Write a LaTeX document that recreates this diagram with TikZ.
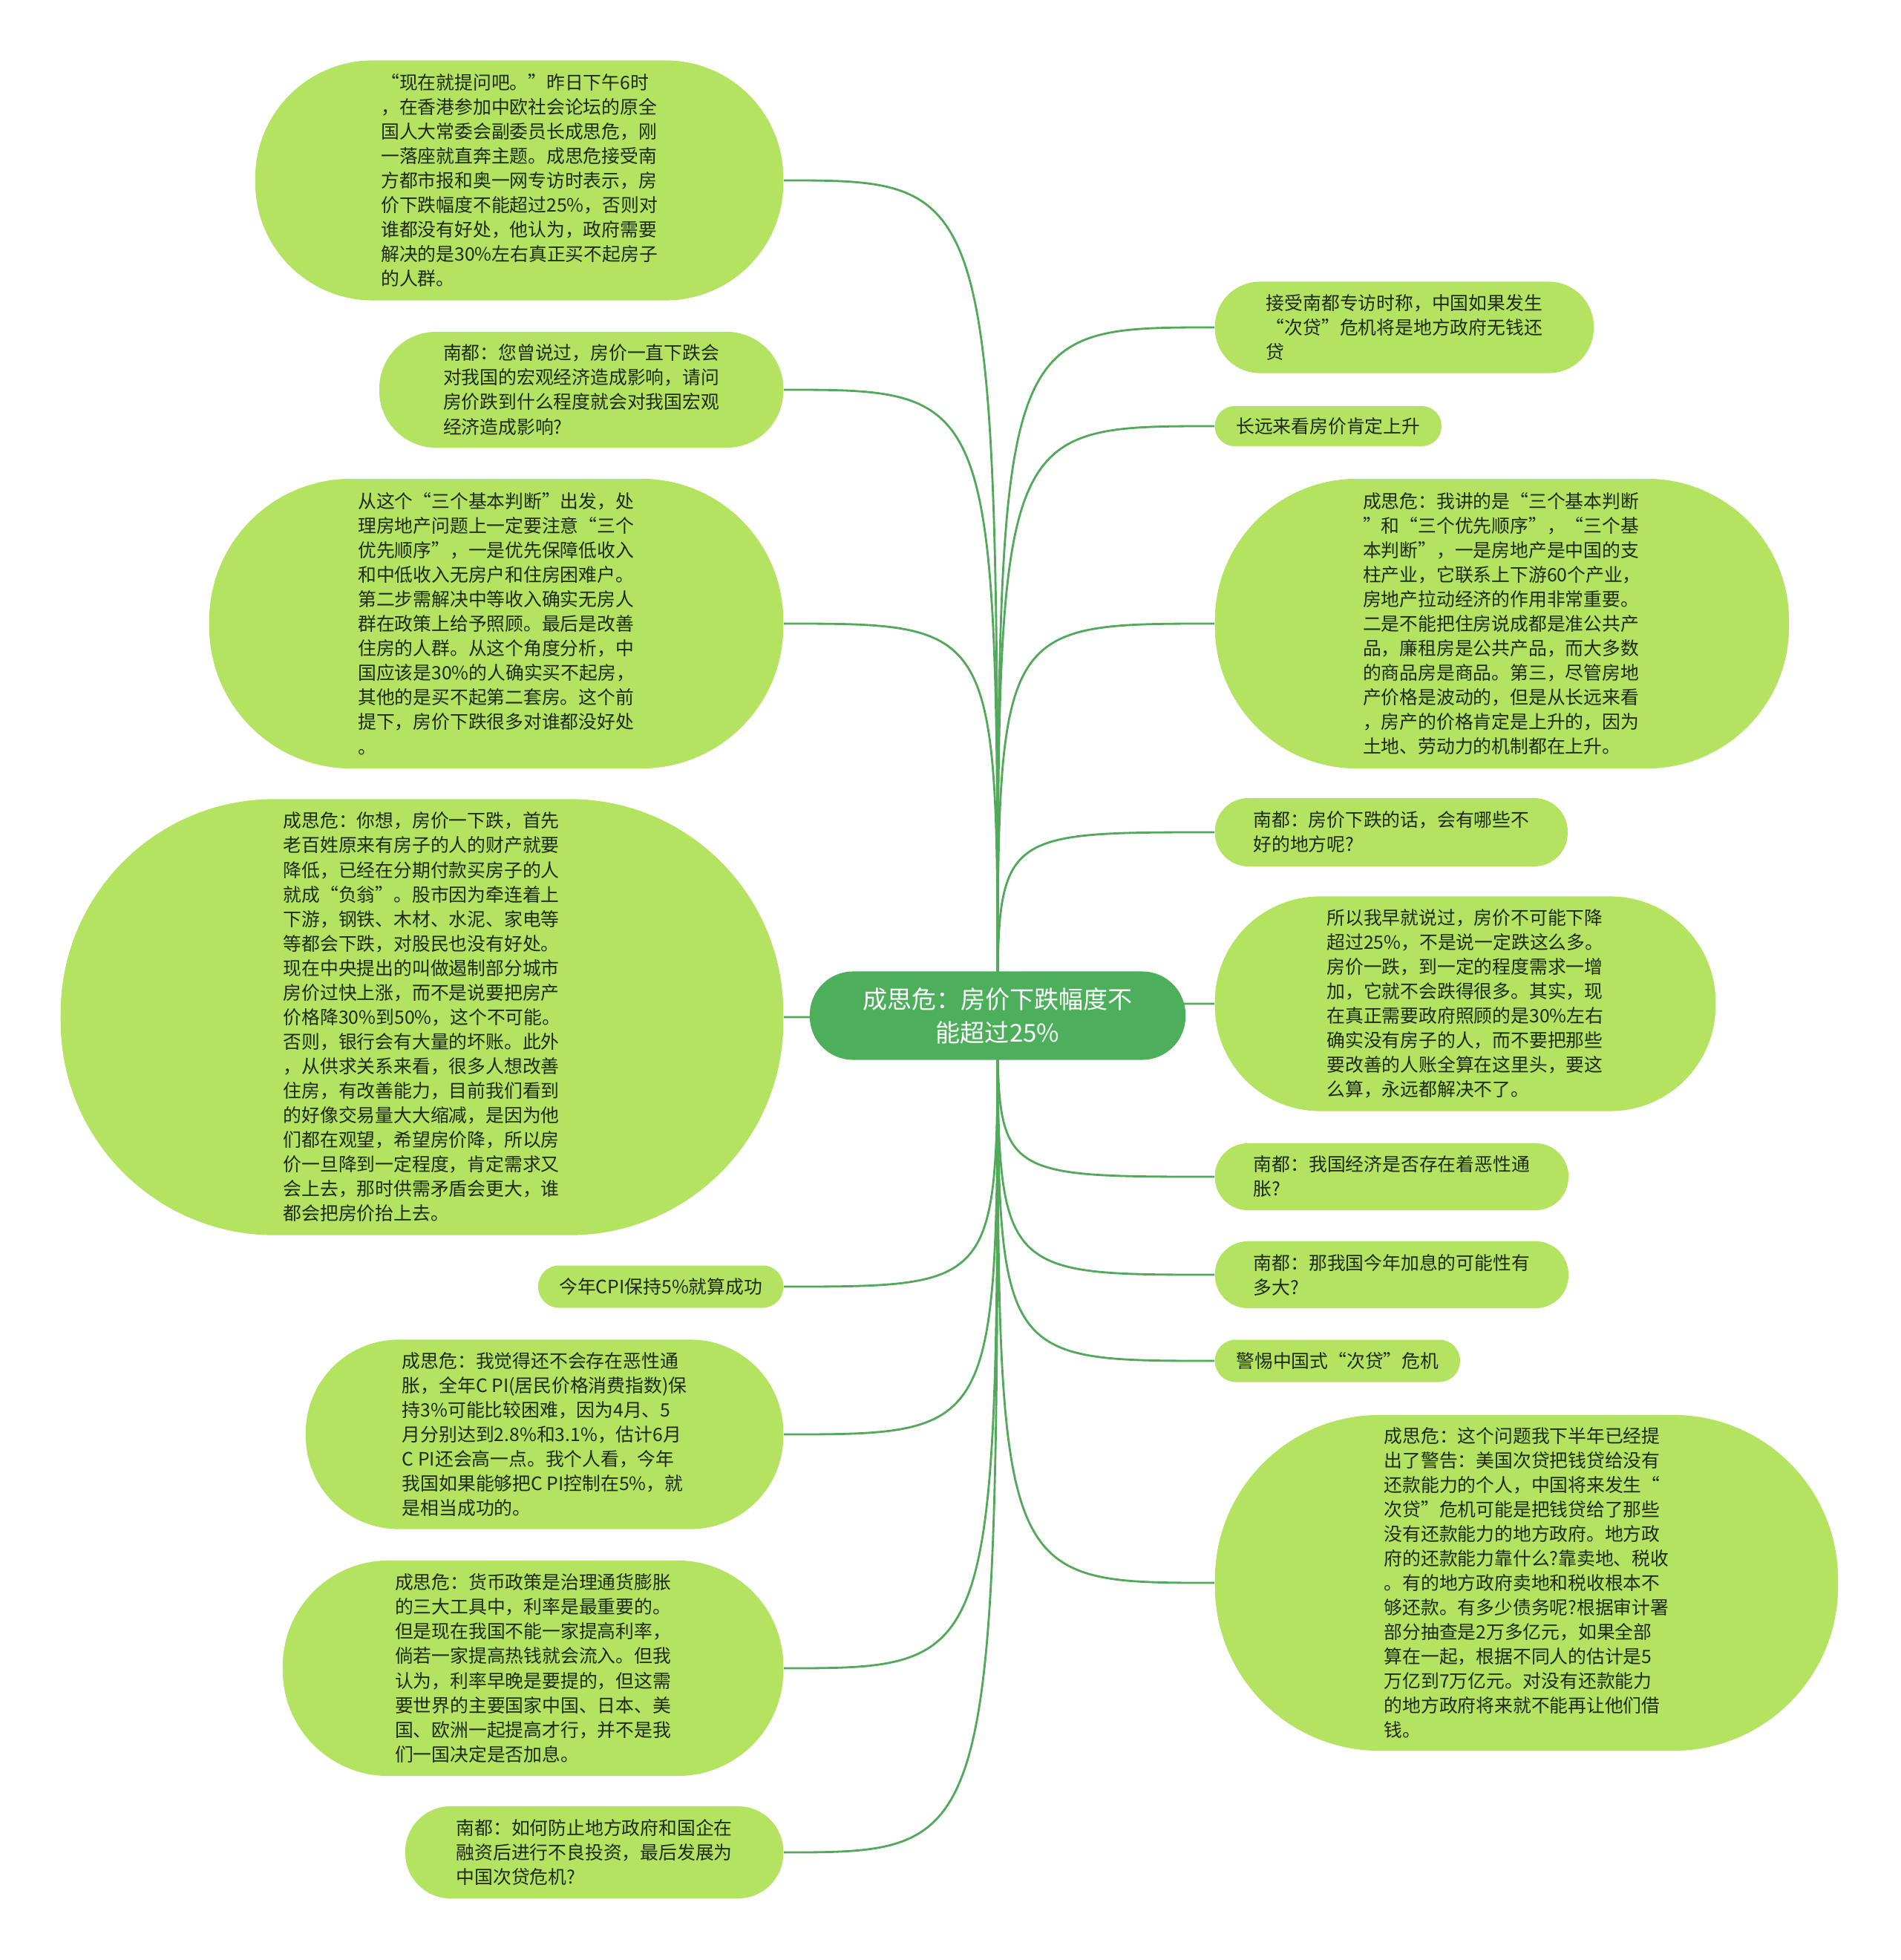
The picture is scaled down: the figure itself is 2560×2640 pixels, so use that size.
\documentclass[tikz,border=0pt]{standalone}
\usepackage{fontspec}
\setmainfont{Noto Sans CJK SC}
\usetikzlibrary{backgrounds}
\definecolor{leafgreen}{HTML}{B3E361}
\definecolor{hubgreen}{HTML}{4DAF5C}
\definecolor{linkgreen}{HTML}{52A85B}
\definecolor{inkdark}{HTML}{1F2A12}

\begin{document}
\begin{tikzpicture}[x=0.01cm, y=-0.01cm,
  box/.style={fill=leafgreen, text=inkdark, align=left, inner sep=0pt,
    font=\fontsize{7.05}{9.4}\selectfont},
  bub/.style 2 args={minimum width=#1, minimum height=#2, rounded corners=0.49*#2},
  hub/.style={fill=hubgreen, text=white, align=center, inner sep=0pt,
    font=\fontsize{9.4}{12.8}\selectfont},
  link/.style={draw=linkgreen, line width=0.8pt}]
\useasboundingbox (0,0) rectangle (2560,2640);
% central topic
\node[hub, bub={5.06cm}{1.19cm}] (root) at (1344,1368) {成思危：房价下跌幅度不\\能超过25\%};
% left branches
\node[box, bub={7.11cm}{3.23cm}, anchor=east] (intro) at (1056,243) {“现在就提问吧。”昨日下午6时\\，在香港参加中欧社会论坛的原全\\国人大常委会副委员长成思危，刚\\一落座就直奔主题。成思危接受南\\方都市报和奥一网专访时表示，房\\价下跌幅度不能超过25\%，否则对\\谁都没有好处，他认为，政府需要\\解决的是30\%左右真正买不起房子\\的人群。};
\node[box, bub={5.44cm}{1.56cm}, anchor=east] (askmacro) at (1056,525) {南都：您曾说过，房价一直下跌会\\对我国的宏观经济造成影响，请问\\房价跌到什么程度就会对我国宏观\\经济造成影响?};
\node[box, bub={7.73cm}{3.90cm}, anchor=east] (priority) at (1056,840) {从这个“三个基本判断”出发，处\\理房地产问题上一定要注意“三个\\优先顺序”，一是优先保障低收入\\和中低收入无房户和住房困难户。\\第二步需解决中等收入确实无房人\\群在政策上给予照顾。最后是改善\\住房的人群。从这个角度分析，中\\国应该是30\%的人确实买不起房，\\其他的是买不起第二套房。这个前\\提下，房价下跌很多对谁都没好处\\。};
\node[box, bub={9.73cm}{5.87cm}, anchor=east] (fallharm) at (1056,1370) {成思危：你想，房价一下跌，首先\\老百姓原来有房子的人的财产就要\\降低，已经在分期付款买房子的人\\就成“负翁”。股市因为牵连着上\\下游，钢铁、木材、水泥、家电等\\等都会下跌，对股民也没有好处。\\现在中央提出的叫做遏制部分城市\\房价过快上涨，而不是说要把房产\\价格降30\%到50\%，这个不可能。\\否则，银行会有大量的坏账。此外\\，从供求关系来看，很多人想改善\\住房，有改善能力，目前我们看到\\的好像交易量大大缩减，是因为他\\们都在观望，希望房价降，所以房\\价一旦降到一定程度，肯定需求又\\会上去，那时供需矛盾会更大，谁\\都会把房价抬上去。};
\node[box, bub={3.30cm}{0.57cm}, anchor=east] (cpi) at (1056,1733) {今年CPI保持5\%就算成功};
\node[box, bub={6.43cm}{2.55cm}, anchor=east] (inflation) at (1056,1932) {成思危：我觉得还不会存在恶性通\\胀，全年C PI(居民价格消费指数)保\\持3\%可能比较困难，因为4月、5\\月分别达到2.8\%和3.1\%，估计6月\\C PI还会高一点。我个人看，今年\\我国如果能够把C PI控制在5\%，就\\是相当成功的。};
\node[box, bub={6.74cm}{2.90cm}, anchor=east] (rate) at (1056,2247) {成思危：货币政策是治理通货膨胀\\的三大工具中，利率是最重要的。\\但是现在我国不能一家提高利率，\\倘若一家提高热钱就会流入。但我\\认为，利率早晚是要提的，但这需\\要世界的主要国家中国、日本、美\\国、欧洲一起提高才行，并不是我\\们一国决定是否加息。};
\node[box, bub={5.09cm}{1.24cm}, anchor=east] (askloan) at (1056,2495) {南都：如何防止地方政府和国企在\\融资后进行不良投资，最后发展为\\中国次贷危机?};
% right branches
\node[box, bub={5.10cm}{1.23cm}, anchor=west] (subprime) at (1636,441) {接受南都专访时称，中国如果发生\\“次贷”危机将是地方政府无钱还\\贷};
\node[box, bub={3.05cm}{0.54cm}, anchor=west] (longrun) at (1636,574) {长远来看房价肯定上升};
\node[box, bub={7.73cm}{3.90cm}, anchor=west] (judge) at (1636,840) {成思危：我讲的是“三个基本判断\\”和“三个优先顺序”，“三个基\\本判断”，一是房地产是中国的支\\柱产业，它联系上下游60个产业，\\房地产拉动经济的作用非常重要。\\二是不能把住房说成都是准公共产\\品，廉租房是公共产品，而大多数\\的商品房是商品。第三，尽管房地\\产价格是波动的，但是从长远来看\\，房产的价格肯定是上升的，因为\\土地、劳动力的机制都在上升。};
\node[box, bub={4.75cm}{0.92cm}, anchor=west] (askharm) at (1636,1121) {南都：房价下跌的话，会有哪些不\\好的地方呢?};
\node[box, bub={6.74cm}{2.89cm}, anchor=west] (limit) at (1636,1352) {所以我早就说过，房价不可能下降\\超过25\%，不是说一定跌这么多。\\房价一跌，到一定的程度需求一增\\加，它就不会跌得很多。其实，现\\在真正需要政府照顾的是30\%左右\\确实没有房子的人，而不要把那些\\要改善的人账全算在这里头，要这\\么算，永远都解决不了。};
\node[box, bub={4.76cm}{0.90cm}, anchor=west] (askinfl) at (1636,1585) {南都：我国经济是否存在着恶性通\\胀?};
\node[box, bub={4.76cm}{0.90cm}, anchor=west] (askrate) at (1636,1717) {南都：那我国今年加息的可能性有\\多大?};
\node[box, bub={3.30cm}{0.57cm}, anchor=west] (warn) at (1636,1833) {警惕中国式“次贷”危机};
\node[box, bub={8.39cm}{4.52cm}, anchor=west] (debt) at (1636,2132) {成思危：这个问题我下半年已经提\\出了警告：美国次贷把钱贷给没有\\还款能力的个人，中国将来发生“\\次贷”危机可能是把钱贷给了那些\\没有还款能力的地方政府。地方政\\府的还款能力靠什么?靠卖地、税收\\。有的地方政府卖地和税收根本不\\够还款。有多少债务呢?根据审计署\\部分抽查是2万多亿元，如果全部\\算在一起，根据不同人的估计是5\\万亿到7万亿元。对没有还款能力\\的地方政府将来就不能再让他们借\\钱。};
% connectors
\begin{scope}[on background layer]
\fill[white] (0,0) rectangle (2560,2640);
\draw[link] (root.center) .. controls (root.center |- intro.east) .. (intro.east);
\draw[link] (root.center) .. controls (root.center |- askmacro.east) .. (askmacro.east);
\draw[link] (root.center) .. controls (root.center |- priority.east) .. (priority.east);
\draw[link] (root.center) .. controls (root.center |- fallharm.east) .. (fallharm.east);
\draw[link] (root.center) .. controls (root.center |- cpi.east) .. (cpi.east);
\draw[link] (root.center) .. controls (root.center |- inflation.east) .. (inflation.east);
\draw[link] (root.center) .. controls (root.center |- rate.east) .. (rate.east);
\draw[link] (root.center) .. controls (root.center |- askloan.east) .. (askloan.east);
\draw[link] (root.center) .. controls (root.center |- subprime.west) .. (subprime.west);
\draw[link] (root.center) .. controls (root.center |- longrun.west) .. (longrun.west);
\draw[link] (root.center) .. controls (root.center |- judge.west) .. (judge.west);
\draw[link] (root.center) .. controls (root.center |- askharm.west) .. (askharm.west);
\draw[link] (root.center) .. controls (root.center |- limit.west) .. (limit.west);
\draw[link] (root.center) .. controls (root.center |- askinfl.west) .. (askinfl.west);
\draw[link] (root.center) .. controls (root.center |- askrate.west) .. (askrate.west);
\draw[link] (root.center) .. controls (root.center |- warn.west) .. (warn.west);
\draw[link] (root.center) .. controls (root.center |- debt.west) .. (debt.west);
\end{scope}
\end{tikzpicture}
\end{document}
